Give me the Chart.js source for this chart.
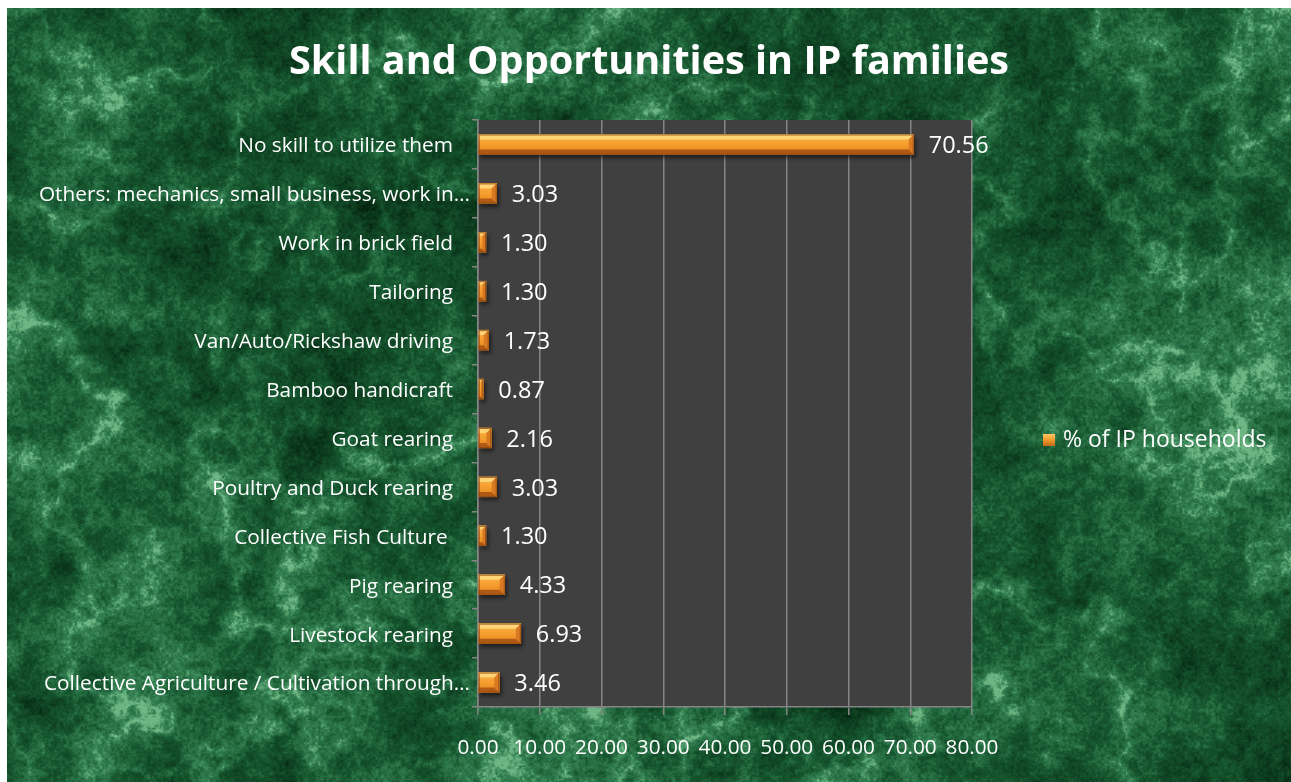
<!DOCTYPE html>
<html>
<head>
<meta charset="utf-8">
<script src="https://cdn.jsdelivr.net/npm/chart.js@4.4.1/dist/chart.umd.min.js"></script>
<style>
  html, body { margin: 0; padding: 0; background: #ffffff; overflow: hidden; }
  #wrap { position: absolute; left: 7px; top: 8px; width: 1284px; height: 774px; }
</style>
</head>
<body>
<div id="wrap"><canvas id="chart" width="1284" height="774"></canvas></div>
<script>
// categories listed top to bottom as they appear on the axis
var categories = [
  'No skill to utilize them',
  'Others: mechanics, small business, work in\u2026',
  'Work in brick field',
  'Tailoring',
  'Van/Auto/Rickshaw driving',
  'Bamboo handicraft',
  'Goat rearing',
  'Poultry and Duck rearing',
  'Collective Fish Culture ',
  'Pig rearing',
  'Livestock rearing',
  'Collective Agriculture / Cultivation through\u2026'
];
var households = [70.56, 3.03, 1.30, 1.30, 1.73, 0.87, 2.16, 3.03, 1.30, 4.33, 6.93, 3.46];
var xTicks = [0, 10, 20, 30, 40, 50, 60, 70, 80];
var seriesName = '% of IP households';

var FONT = '"Open Sans", sans-serif';

// ---- green marble backdrop (deterministic value noise) ----
function hash(ix, iy, seed) {
  var h = Math.sin(ix * 127.1 + iy * 311.7 + seed * 74.7) * 43758.5453;
  return h - Math.floor(h);
}
function makeLattice(cell, w, h, seed) {
  var cols = Math.ceil(w / cell) + 2, rows = Math.ceil(h / cell) + 2;
  var arr = new Float32Array(cols * rows);
  for (var j = 0; j < rows; j++)
    for (var i = 0; i < cols; i++) arr[j * cols + i] = hash(i, j, seed);
  return { cell: cell, cols: cols, arr: arr };
}
function sample(l, x, y) {
  var fx = x / l.cell, fy = y / l.cell;
  var ix = Math.floor(fx), iy = Math.floor(fy);
  var tx = fx - ix, ty = fy - iy;
  tx = tx * tx * (3 - 2 * tx); ty = ty * ty * (3 - 2 * ty);
  var a = l.arr[iy * l.cols + ix], b = l.arr[iy * l.cols + ix + 1];
  var c = l.arr[(iy + 1) * l.cols + ix], d = l.arr[(iy + 1) * l.cols + ix + 1];
  return (a + (b - a) * tx) * (1 - ty) + (c + (d - c) * tx) * ty;
}
var marbleStops = [
  [0.0, 4, 38, 16],
  [0.5, 22, 86, 47],
  [0.8, 52, 128, 82],
  [1.0, 110, 182, 132]
];
function marbleColor(t) {
  for (var i = 1; i < marbleStops.length; i++) {
    var s0 = marbleStops[i - 1], s1 = marbleStops[i];
    if (t <= s1[0]) {
      var k = (t - s0[0]) / (s1[0] - s0[0]);
      return [s0[1] + (s1[1] - s0[1]) * k, s0[2] + (s1[2] - s0[2]) * k, s0[3] + (s1[3] - s0[3]) * k];
    }
  }
  return marbleStops[marbleStops.length - 1].slice(1);
}
function buildMarble(w, h) {
  var cv = document.createElement('canvas');
  cv.width = w; cv.height = h;
  var g = cv.getContext('2d');
  var img = g.createImageData(w, h);
  var base = [makeLattice(160, w, h, 1), makeLattice(70, w, h, 2), makeLattice(28, w, h, 3), makeLattice(9, w, h, 4), makeLattice(3, w, h, 5), makeLattice(1.5, w, h, 6)];
  var vein = [makeLattice(130, w, h, 11), makeLattice(50, w, h, 12), makeLattice(16, w, h, 13)];
  var p = 0;
  for (var y = 0; y < h; y++) {
    for (var x = 0; x < w; x++) {
      var n = sample(base[0], x, y) * 0.26 + sample(base[1], x, y) * 0.2 + sample(base[2], x, y) * 0.16 +
              sample(base[3], x, y) * 0.14 + sample(base[4], x, y) * 0.13 + sample(base[5], x, y) * 0.11;
      var v = sample(vein[0], x, y) * 0.55 + sample(vein[1], x, y) * 0.3 + sample(vein[2], x, y) * 0.15;
      v = 1 - Math.abs(v * 2 - 1);
      v = Math.pow(v, 8);
      var t = 0.47 + (n - 0.5) * 1.7 + v * 0.32;
      t = Math.max(0, Math.min(1, t));
      var col = marbleColor(t);
      img.data[p++] = col[0]; img.data[p++] = col[1]; img.data[p++] = col[2]; img.data[p++] = 255;
    }
  }
  g.putImageData(img, 0, 0);
  return cv;
}
var marble = buildMarble(1284, 774);

function isTruncated(label) {
  return label.charAt(label.length - 1) === '\u2026';
}

var backdropPlugin = {
  id: 'backdrop',
  beforeDraw: function (chart) {
    var ctx = chart.ctx, a = chart.chartArea;
    ctx.save();
    ctx.drawImage(marble, 0, 0);
    ctx.fillStyle = '#404040';
    ctx.fillRect(a.left, a.top, a.right - a.left, a.bottom - a.top);
    ctx.restore();
  },
  afterDraw: function (chart) {
    var ctx = chart.ctx, yScale = chart.scales.y;
    ctx.save();
    // category labels; the clipped ones run a little closer to the axis
    ctx.fillStyle = '#ffffff';
    ctx.font = '20.8px ' + FONT;
    ctx.textAlign = 'right';
    ctx.textBaseline = 'middle';
    categories.forEach(function (label, i) {
      var right = yScale.right - (isTruncated(label) ? 8 : 25);
      ctx.fillText(label, right, yScale.getPixelForValue(i) + 2);
    });
    // legend entry at the right
    var g = ctx.createLinearGradient(0, 426, 0, 438);
    g.addColorStop(0, '#ffc564'); g.addColorStop(0.5, '#f39a2b'); g.addColorStop(1, '#c0681c');
    ctx.fillStyle = g;
    ctx.fillRect(1036, 426, 12, 12);
    ctx.fillStyle = '#ffffff';
    ctx.font = '23px ' + FONT;
    ctx.textAlign = 'left';
    ctx.fillText(seriesName, 1056, 432);
    ctx.restore();
  }
};

var barPlugin = {
  id: 'bevelBars',
  beforeDatasetsDraw: function (chart) {
    var ctx = chart.ctx;
    ctx.save();
    ctx.shadowColor = 'rgba(0,0,0,0.55)';
    ctx.shadowOffsetX = 2;
    ctx.shadowOffsetY = 3;
    ctx.shadowBlur = 4;
  },
  afterDatasetsDraw: function (chart) {
    var ctx = chart.ctx;
    ctx.restore();
    var meta = chart.getDatasetMeta(0);
    ctx.save();
    meta.data.forEach(function (bar) {
      var l = bar.base, r = bar.x, t = bar.y - bar.height / 2, bt = bar.y + bar.height / 2;
      var b = Math.min(5, (r - l) / 2);
      ctx.fillStyle = 'rgba(255,216,125,0.9)';
      ctx.beginPath();
      ctx.moveTo(l, t); ctx.lineTo(r, t); ctx.lineTo(r - b, t + b); ctx.lineTo(l, t + b); ctx.closePath(); ctx.fill();
      ctx.fillStyle = 'rgba(170,85,20,0.9)';
      ctx.beginPath();
      ctx.moveTo(l, bt); ctx.lineTo(r, bt); ctx.lineTo(r - b, bt - b); ctx.lineTo(l, bt - b); ctx.closePath(); ctx.fill();
      ctx.fillStyle = 'rgba(215,120,35,0.95)';
      ctx.beginPath();
      ctx.moveTo(r, t); ctx.lineTo(r, bt); ctx.lineTo(r - b, bt - b); ctx.lineTo(r - b, t + b); ctx.closePath(); ctx.fill();
      ctx.strokeStyle = 'rgba(140,70,15,0.8)';
      ctx.lineWidth = 1;
      ctx.strokeRect(l + 0.5, t + 0.5, r - l - 1, bt - t - 1);
    });
    // value labels
    ctx.fillStyle = '#ffffff';
    ctx.font = '23.5px ' + FONT;
    ctx.textAlign = 'left';
    ctx.textBaseline = 'middle';
    meta.data.forEach(function (bar, i) {
      ctx.fillText(households[i].toFixed(2), bar.x + 15, bar.y + 2);
    });
    ctx.restore();
  }
};

function barFill(context) {
  var chart = context.chart;
  var y = chart.scales.y ? chart.scales.y.getPixelForValue(context.dataIndex) : NaN;
  if (!isFinite(y)) return '#f39a2b';
  var g = chart.ctx.createLinearGradient(0, y - 10, 0, y + 10);
  g.addColorStop(0, '#f8b448');
  g.addColorStop(0.5, '#f59e2e');
  g.addColorStop(1, '#e4841f');
  return g;
}

new Chart(document.getElementById('chart'), {
  type: 'bar',
  data: {
    labels: categories,
    datasets: [{
      label: seriesName,
      data: households,
      backgroundColor: barFill,
      borderWidth: 0,
      barThickness: 20
    }]
  },
  options: {
    indexAxis: 'y',
    responsive: false,
    animation: false,
    layout: { padding: 0 },
    plugins: {
      legend: { display: false },
      tooltip: { enabled: false },
      title: {
        display: true,
        text: 'Skill and Opportunities in IP families',
        color: '#ffffff',
        font: { family: FONT, size: 39.6, weight: 'bold', lineHeight: 1.2 },
        padding: { top: 31, bottom: 33.5 }
      }
    },
    scales: {
      x: {
        min: 0,
        max: 80,
        afterBuildTicks: function (scale) {
          scale.ticks = xTicks.map(function (v) { return { value: v }; });
        },
        afterFit: function (scale) { scale.height = 75; },
        ticks: {
          color: '#ffffff',
          font: { family: FONT, size: 20.8 },
          padding: 21,
          maxRotation: 0,
          autoSkip: false,
          callback: function (v) { return Number(v).toFixed(2); }
        },
        grid: { color: '#858585', lineWidth: 1.5, tickLength: 8 },
        border: { color: '#858585', width: 1.5 }
      },
      y: {
        afterFit: function (scale) { scale.width = 471; },
        ticks: { display: false },
        grid: { drawOnChartArea: false, color: '#858585', lineWidth: 1.5, tickLength: 6 },
        border: { color: '#858585', width: 1.5 }
      },
      // empty right-hand band that holds the legend entry
      legendBand: {
        type: 'category',
        position: 'right',
        afterFit: function (scale) { scale.width = 319; },
        ticks: { display: false },
        grid: { display: false },
        border: { display: false }
      }
    }
  },
  plugins: [backdropPlugin, barPlugin]
});
</script>
</body>
</html>
